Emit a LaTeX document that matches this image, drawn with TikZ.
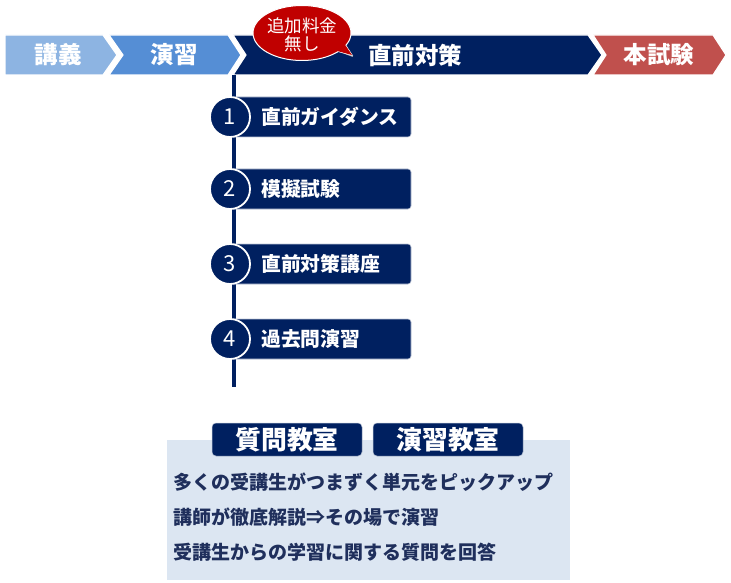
\documentclass[tikz,border=0pt]{standalone}
\usepackage{fontspec}
\setmainfont{Noto Sans CJK JP}
\usetikzlibrary{shapes.geometric}
\definecolor{navy}{HTML}{002060}
\definecolor{lblue}{HTML}{8DB4E2}
\definecolor{mblue}{HTML}{558ED5}
\definecolor{rred}{HTML}{C0504D}
\definecolor{bred}{HTML}{C00000}
\definecolor{panel}{HTML}{DCE6F2}
\definecolor{tnavy}{HTML}{1F2F5C}
\begin{document}
\begin{tikzpicture}[x=1pt,y=-1pt,
  chev/.style={draw=white,line width=1.2pt,line join=miter},
  ctext/.style={text=white,font=\fontsize{23.5}{26}\selectfont\bfseries},
  itembox/.style={fill=navy,draw=white!75!navy,line width=0.6pt,rounded corners=3pt},
  numcirc/.style={circle,fill=navy,draw=white,line width=1.8pt,minimum size=40pt,inner sep=0pt,text=white,font=\fontsize{22}{24}\selectfont},
  itemtext/.style={anchor=west,text=white,font=\fontsize{19.8}{22}\selectfont\bfseries,inner sep=0pt},
  tab/.style={fill=navy,rounded corners=4pt,draw=white!70!navy,line width=0.5pt},
  tabtext/.style={text=white,font=\fontsize{25.8}{28}\selectfont\bfseries},
  ptext/.style={anchor=west,text=tnavy,font=\fontsize{19}{21}\selectfont\bfseries,inner sep=0pt}]
\useasboundingbox (0,0) rectangle (731,583);
% chevrons
\fill[lblue,chev] (5,35) -- (103,35) -- (117,55) -- (103,75) -- (5,75) -- cycle;
\fill[mblue,chev] (109,35) -- (228,35) -- (241,55) -- (228,75) -- (109,75) -- (123,55) -- cycle;
\fill[navy,chev] (233,35) -- (588,35) -- (602,55) -- (588,75) -- (233,75) -- (246,55) -- cycle;
\fill[rred,chev] (593,35) -- (713,35) -- (726,55) -- (713,75) -- (593,75) -- (606,55) -- cycle;
\node[ctext] (s1) at (58,55) {講義};
\node[ctext] (s2) at (174,55) {演習};
\node[ctext] (s3) at (415,55) {直前対策};
\node[ctext] (s4) at (659,55) {本試験};
% bubble
\fill[black!25] (353,57) -- (334,50) -- (343,42) -- cycle;
\filldraw[fill=bred,draw=white,line width=1pt] (352,55) -- (329,49) -- (341,38) -- cycle;
\fill[bred] (302,33) ellipse [x radius=49, y radius=27.5];
\draw[white,line width=1pt] (302,33) ellipse [x radius=49, y radius=27.5];
\fill[bred] (352,55) -- (328,48.5) -- (340,37.5) -- cycle;
\node[text=white,align=center,font=\fontsize{17.5}{18}\selectfont,inner sep=0pt] (bub) at (302,35) {追加料金\\無し};
% timeline
\coordinate (ltop) at (234,75);
\coordinate (lbot) at (234,387);
\draw[navy,line width=4pt] (ltop) -- (lbot);
\foreach \i/\y/\t in {1/117/直前ガイダンス,2/189/模擬試験,3/264/直前対策講座,4/339/過去問演習}{
  \draw[itembox] (232,\y-20) rectangle (411,\y+20);
  \node[numcirc] (c\i) at (230,\y) {\i};
  \node[itemtext] (t\i) at (261,\y) {\t};
}
% bottom panel
\fill[panel] (167,440) rectangle (570,580);
\draw[tab] (212,423) rectangle (362,456);
\draw[tab] (373,423) rectangle (523,456);
\node[tabtext] (q) at (287,440) {質問教室};
\node[tabtext] (e) at (448,440) {演習教室};
\node[ptext] (p1) at (173,482) {多くの受講生がつまずく単元をピックアップ};
\node[ptext] (p2) at (173,517) {講師が徹底解説⇒その場で演習};
\node[ptext] (p3) at (173,552) {受講生からの学習に関する質問を回答};
\end{tikzpicture}
\end{document}
